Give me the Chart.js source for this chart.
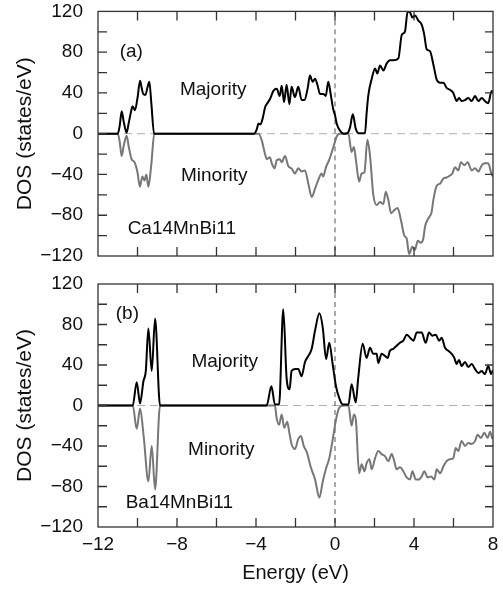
<!DOCTYPE html>
<html>
<head>
<meta charset="utf-8">
<script src="https://cdn.jsdelivr.net/npm/chart.js@4"></script>
<style>
  html, body { margin: 0; padding: 0; background: #fff; }
  #wrap { position: relative; width: 503px; height: 591px; }
  #wrap canvas { position: absolute; left: 0; }
</style>
</head>
<body>
<div id="wrap">
  <canvas id="chartA" width="503" height="270" style="top:0"></canvas>
  <canvas id="chartB" width="503" height="321" style="top:270px"></canvas>
</div>
<script>
// panel (a) Ca14MnBi11
const aMajE = [-12, -11.0, -10.9, -10.8, -10.7, -10.55, -10.45, -10.3, -10.25, -10.13, -10.0, -9.87, -9.78, -9.71, -9.6, -9.5, -9.4, -9.3, -9.16,
  -4.1, -3.95, -3.88, -3.77, -3.65, -3.54, -3.42, -3.29, -3.12, -2.95, -2.8, -2.7, -2.58, -2.45, -2.31, -2.2, -2.03, -1.86, -1.69, -1.55, -1.38,
  -1.27, -1.13, -1.01, -0.89, -0.76, -0.59, -0.47, -0.34, -0.22, -0.1, 0.0, 0.1, 0.25, 0.45, 0.65, 0.76, 0.9, 1.05, 1.2, 1.52, 1.6, 1.69, 1.86,
  2.03, 2.14, 2.28, 2.45, 2.62, 2.78, 2.95, 3.21, 3.38, 3.54, 3.68, 3.8, 3.92, 4.05, 4.22, 4.39, 4.52, 4.64, 4.81, 4.98, 5.15, 5.32, 5.49, 5.65,
  5.82, 5.99, 6.16, 6.28, 6.41, 6.58, 6.75, 6.92, 7.09, 7.26, 7.43, 7.59, 7.76, 7.93, 8.0];
const aMajDos = [0, 0, 8, 22, 12, 1, 10, 24, 27, 23, 35, 52, 44, 39, 38, 45, 51, 30, 0,
  0, 5, 10, 9, 16, 26, 30, 34, 42, 44, 37, 47, 31, 48, 29, 46, 36, 46, 33, 33, 45,
  57, 51, 54, 48, 39, 39, 37, 51, 39, 25, 18, 9, 3, 0, 1, 6, 19, 5, 0.5, 0.5, 20, 38, 54,
  64, 59, 67, 62, 69, 72, 72, 74, 97, 100, 120, 119, 114, 116, 111, 107, 97, 83, 81, 68, 53, 50, 50, 45,
  43, 40, 32, 35, 32, 33, 35, 32, 37, 32, 35, 32, 30, 42, 40];
const aMinE = [-12, -11.0, -10.9, -10.8, -10.7, -10.55, -10.45, -10.3, -10.15, -10.0, -9.88, -9.75, -9.65, -9.55, -9.45, -9.3, -9.15,
  -3.87, -3.7, -3.58, -3.45, -3.3, -3.2, -3.06, -2.95, -2.8, -2.7, -2.53, -2.36, -2.2, -2.03, -1.86, -1.69, -1.52, -1.35, -1.18, -1.01,
  -0.84, -0.68, -0.6, -0.46, -0.3, -0.08, 0.08, 0.25, 0.68, 0.84, 0.96, 1.06, 1.22, 1.35, 1.49, 1.64, 1.77, 1.94, 2.11, 2.28, 2.45,
  2.57, 2.7, 2.84, 3.0, 3.17, 3.34, 3.51, 3.63, 3.75, 3.92, 4.05, 4.19, 4.34, 4.47, 4.56, 4.73, 4.89, 4.98, 5.15, 5.32, 5.49, 5.65,
  5.82, 5.94, 6.08, 6.24, 6.38, 6.55, 6.72, 6.92, 7.09, 7.26, 7.43, 7.59, 7.76, 7.93, 8.0];
const aMinDos = [0, 0, -8, -22, -12, -2, -12, -25, -28, -38, -52, -42, -46, -40, -52, -30, 0,
  0, -7, -17, -25, -23, -29, -34, -26, -25, -28, -22, -32, -34, -39, -34, -37, -36, -49, -62, -54,
  -45, -39, -42, -33, -26, -13, -3, 0, 0, -18, -13, -26, -47, -39, -38, -6, -21, -60, -70, -67, -69,
  -57, -65, -78, -75, -73, -85, -100, -103, -118, -111, -114, -105, -107, -103, -91, -83, -77, -65, -51, -49, -44, -43,
  -41, -39, -33, -36, -28, -31, -28, -36, -34, -37, -31, -29, -29, -40, -42];

// panel (b) Ba14MnBi11
const bMajE = [-12, -10.24, -10.04, -9.87, -9.7, -9.58, -9.45, -9.28, -9.11, -8.86,
  -3.46, -3.22, -3.04, -2.83, -2.62, -2.45, -2.3, -2.2, -2.03, -1.86, -1.69, -1.52, -1.35, -1.18, -1.01, -0.79, -0.62, -0.45, -0.29, -0.12,
  0.05, 0.22, 0.39, 0.68, 0.84, 1.05, 1.18, 1.4, 1.6, 1.77, 1.94, 2.11, 2.19, 2.36, 2.53, 2.67, 2.78, 2.95, 3.12, 3.29, 3.46, 3.63, 3.8,
  3.97, 4.14, 4.39, 4.59, 4.76, 4.93, 5.1, 5.27, 5.4, 5.57, 5.74, 5.91, 6.04, 6.16, 6.28, 6.41, 6.58, 6.75, 6.92, 7.09, 7.26, 7.43, 7.59,
  7.76, 7.9, 8.0];
const bMajDos = [0, 0, 23, 2, 24, 34, 76, 34, 86, 0,
  0, 19, 1, 1, 95, 27, 16, 34, 36, 36, 29, 43, 49, 56, 74, 91, 77, 46, 62, 41,
  19, 7, 1, 1, 21, 3, 28, 61, 47, 57, 51, 51, 42, 51, 49, 47, 54, 56, 59, 62, 64, 70, 67,
  64, 72, 72, 62, 72, 69, 70, 64, 67, 57, 54, 51, 47, 41, 45, 39, 43, 38, 41, 36, 32, 34, 31,
  39, 31, 35];
const bMinE = [-12, -10.24, -10.04, -9.87, -9.68, -9.45, -9.28, -9.11, -8.86,
  -3.04, -2.96, -2.83, -2.7, -2.57, -2.42, -2.32, -2.2, -2.03, -1.86, -1.73, -1.58, -1.41, -1.24, -1.01, -0.79, -0.62, -0.45, -0.29, -0.12,
  0.05, 0.22, 0.42, 0.68, 0.84, 0.96, 1.06, 1.22, 1.35, 1.49, 1.6, 1.74, 1.86, 2.03, 2.19, 2.36, 2.53, 2.7, 2.87, 3.0, 3.12, 3.29, 3.46,
  3.63, 3.8, 3.92, 4.09, 4.25, 4.39, 4.52, 4.69, 4.86, 5.03, 5.15, 5.32, 5.49, 5.65, 5.82, 5.99, 6.11, 6.24, 6.41, 6.58, 6.75, 6.92,
  7.09, 7.22, 7.39, 7.56, 7.73, 7.85, 7.97];
const bMinDos = [0, 0, -23, -3, -32, -75, -40, -83, 0,
  0, -12, -19, -9, -22, -16, -26, -38, -43, -33, -30, -40, -47, -60, -73, -91, -75, -62, -52, -34,
  -14, -2, 0, 0, -20, -9, -15, -67, -58, -65, -57, -53, -63, -52, -45, -48, -50, -55, -48, -55, -63, -61, -65,
  -71, -73, -65, -73, -73, -70, -65, -71, -70, -73, -63, -67, -60, -55, -53, -52, -42, -45, -35, -40, -37, -38,
  -35, -29, -32, -27, -32, -26, -33];

const xTicks = [-12, 8, 4];   // min, max, step
const yTicks = [-120, 120, 40];

Chart.defaults.font.family = "'Liberation Sans', Arial, Helvetica, sans-serif";
Chart.defaults.color = '#111';

function pts(xs, ys) {
    return xs.map((x, i) => ({ x: x, y: ys[i] }));
}

function minus(v) {
    return String(v).replace('-', '\u2212');
}

// zero lines, frame, inward ticks and the panel texts
const decor = {
    id: 'decor',
    beforeDatasetsDraw(chart) {
        const { ctx, chartArea: a, scales: { x, y } } = chart;
        ctx.save();
        ctx.lineWidth = 1;
        ctx.strokeStyle = '#b0b0b0';
        ctx.setLineDash([8, 5]);
        const y0 = y.getPixelForValue(0);
        ctx.beginPath(); ctx.moveTo(a.left, y0); ctx.lineTo(a.right, y0); ctx.stroke();
        ctx.strokeStyle = '#555';
        ctx.setLineDash([5, 4]);
        const x0 = x.getPixelForValue(0);
        ctx.beginPath(); ctx.moveTo(x0, a.top); ctx.lineTo(x0, a.bottom); ctx.stroke();
        ctx.restore();
    },
    afterDraw(chart, args, opts) {
        const { ctx, chartArea: a, scales: { x, y } } = chart;
        ctx.save();
        ctx.strokeStyle = '#333';
        ctx.lineWidth = 1.3;
        ctx.strokeRect(a.left, a.top, a.right - a.left, a.bottom - a.top);
        ctx.beginPath();
        for (let e = -10; e < 8; e += 2) {
            const px = x.getPixelForValue(e);
            ctx.moveTo(px, a.top); ctx.lineTo(px, a.top + 9);
            ctx.moveTo(px, a.bottom); ctx.lineTo(px, a.bottom - 9);
        }
        for (let d = -100; d < 120; d += 20) {
            const py = y.getPixelForValue(d);
            ctx.moveTo(a.left, py); ctx.lineTo(a.left + 9, py);
            ctx.moveTo(a.right, py); ctx.lineTo(a.right - 8, py);
        }
        ctx.stroke();
        ctx.fillStyle = '#111';
        ctx.font = "19px 'Liberation Sans', Arial, sans-serif";
        ctx.textBaseline = 'middle';
        ctx.textAlign = 'left';
        opts.labels.forEach(l => {
            ctx.fillText(l.text, x.getPixelForValue(l.x), y.getPixelForValue(l.y));
        });
        ctx.restore();
    }
};

// invisible tick marks keep the label gap without adding scale padding
function gap(len) {
    return { display: true, color: 'rgba(0,0,0,0)', drawOnChartArea: false, drawTicks: true, tickLength: len };
}

function makeChart(id, maj, min, labels, bottom) {
    return new Chart(document.getElementById(id).getContext('2d'), {
        type: 'line',
        data: {
            datasets: [{
                label: 'Majority',
                data: maj,
                borderColor: '#000',
                borderWidth: 2,
                pointRadius: 0,
                cubicInterpolationMode: 'monotone'
            }, {
                label: 'Minority',
                data: min,
                borderColor: '#777',
                borderWidth: 2,
                pointRadius: 0,
                cubicInterpolationMode: 'monotone'
            }]
        },
        options: {
            responsive: false,
            animation: false,
            layout: { padding: { top: bottom ? 14 : 11, right: 10, left: 0, bottom: 0 } },
            plugins: {
                legend: { display: false },
                tooltip: { enabled: false },
                decor: { labels: labels }
            },
            scales: {
                x: {
                    type: 'linear',
                    min: xTicks[0],
                    max: xTicks[1],
                    grid: gap(6),
                    border: { display: false },
                    ticks: {
                        display: bottom,
                        stepSize: xTicks[2],
                        padding: 0,
                        font: { size: 19 },
                        callback: v => minus(v)
                    },
                    title: {
                        display: bottom,
                        text: 'Energy (eV)',
                        font: { size: 20 },
                        padding: { top: 0, bottom: 6 }
                    },
                    afterFit: s => { s.height = bottom ? 64 : 14; }
                },
                y: {
                    min: yTicks[0],
                    max: yTicks[1],
                    grid: gap(15),
                    border: { display: false },
                    ticks: {
                        stepSize: yTicks[2],
                        padding: 0,
                        font: { size: 19 },
                        callback: v => minus(v)
                    },
                    title: {
                        display: true,
                        text: 'DOS (states/eV)',
                        font: { size: 21 },
                        padding: { top: 13, bottom: 0 }
                    },
                    afterFit: s => { s.width = 98; }
                }
            }
        },
        plugins: [decor]
    });
}

makeChart('chartA', pts(aMajE, aMajDos), pts(aMinE, aMinDos), [
    { text: '(a)', x: -10.9, y: 80 },
    { text: 'Majority', x: -7.85, y: 43 },
    { text: 'Minority', x: -7.8, y: -41 },
    { text: 'Ca14MnBi11', x: -10.5, y: -93 }
], false);

makeChart('chartB', pts(bMajE, bMajDos), pts(bMinE, bMinDos), [
    { text: '(b)', x: -11.1, y: 91 },
    { text: 'Majority', x: -7.27, y: 43 },
    { text: 'Minority', x: -7.44, y: -44 },
    { text: 'Ba14MnBi11', x: -10.6, y: -96 }
], true);
</script>
</body>
</html>
